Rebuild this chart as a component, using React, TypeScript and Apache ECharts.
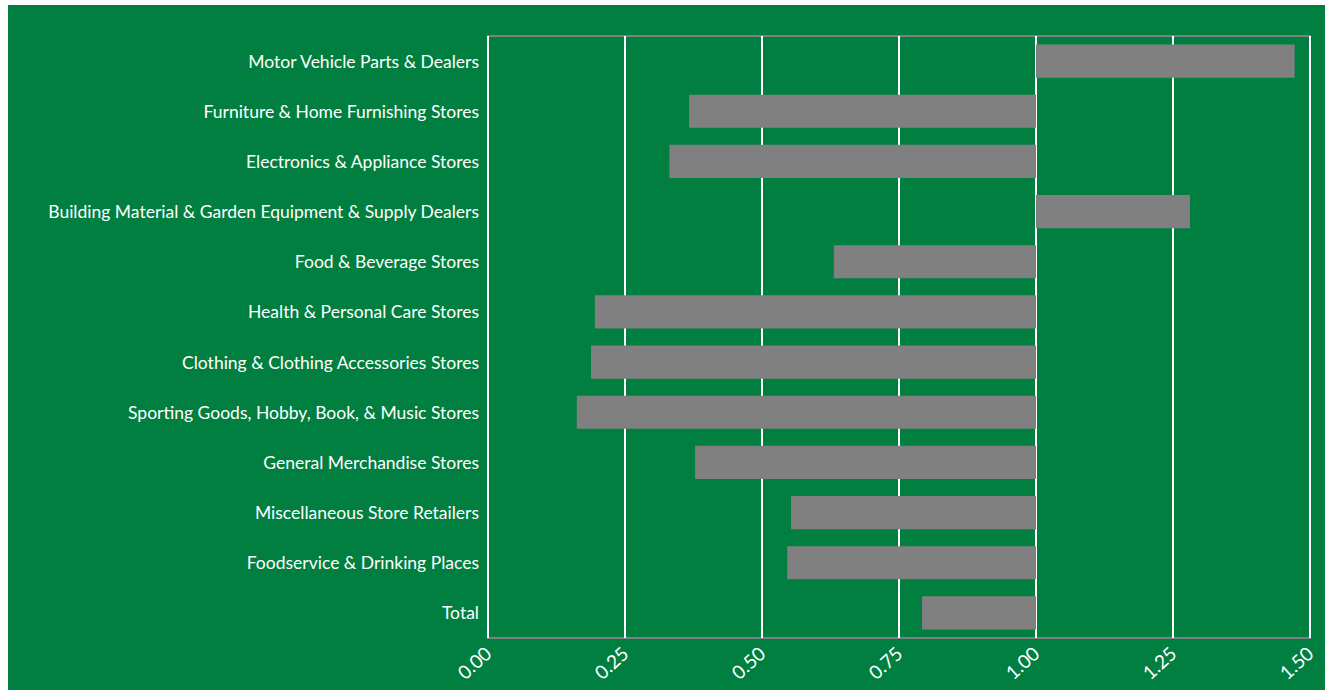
import React, { useEffect, useRef } from "react";
import * as echarts from "echarts";

const categories = [
  "Motor Vehicle Parts & Dealers",
  "Furniture & Home Furnishing Stores",
  "Electronics & Appliance Stores",
  "Building Material & Garden Equipment & Supply Dealers",
  "Food & Beverage Stores",
  "Health & Personal Care Stores",
  "Clothing & Clothing Accessories Stores",
  "Sporting Goods, Hobby, Book, & Music Stores",
  "General Merchandise Stores",
  "Miscellaneous Store Retailers",
  "Foodservice & Drinking Places",
  "Total",
];

const values = [1.472, 0.367, 0.331, 1.281, 0.631, 0.195, 0.188, 0.162, 0.378, 0.553, 0.546, 0.792];

const xTicks = [0, 0.25, 0.5, 0.75, 1.0, 1.25, 1.5];
const baseline = 1.0;

const FONT = "Lato, 'Liberation Sans', sans-serif";

export default function App() {
  const ref = useRef<HTMLDivElement>(null);
  useEffect(() => {
    if (!ref.current) return;
    const chart = echarts.init(ref.current, null, { renderer: "svg" });
    const baseData = values.map((v) => Math.min(v, baseline));
    const diffData = values.map((v) => Math.abs(v - baseline));
    chart.setOption({
      animation: false,
      backgroundColor: "#007F40",
      grid: {
        left: 480,
        right: 15,
        top: 31,
        bottom: 52,
        show: true,
        borderColor: "#808080",
        borderWidth: 2,
        backgroundColor: "transparent",
        containLabel: false,
        outerBoundsMode: "none",
      },
      xAxis: {
        type: "value",
        min: xTicks[0],
        max: xTicks[xTicks.length - 1],
        interval: 0.25,
        axisLine: { show: false },
        axisTick: { show: false },
        splitLine: { show: true, lineStyle: { color: "#ffffff", width: 2 } },
        axisLabel: {
          color: "#ffffff",
          fontFamily: FONT,
          fontSize: 19,
          rotate: 42,
          margin: 12,
          formatter: (v: number) => v.toFixed(2),
        },
      },
      yAxis: {
        type: "category",
        data: categories,
        inverse: true,
        axisLine: { show: false },
        axisTick: { show: false },
        splitLine: { show: false },
        axisLabel: {
          color: "#ffffff",
          fontFamily: FONT,
          fontSize: 17.5,
          margin: 9,
          padding: [0, 0, 5, 0],
        },
      },
      series: [
        {
          type: "bar",
          stack: "s",
          data: baseData,
          barCategoryGap: "34%",
          itemStyle: { color: "transparent" },
          silent: true,
        },
        {
          type: "bar",
          stack: "s",
          data: diffData,
          barCategoryGap: "34%",
          itemStyle: { color: "#808080" },
        },
      ],
    });
    return () => chart.dispose();
  }, []);
  return (
    <div
      ref={ref}
      style={{ position: "fixed", left: 8, top: 5, width: 1317, height: 685 }}
    />
  );
}
